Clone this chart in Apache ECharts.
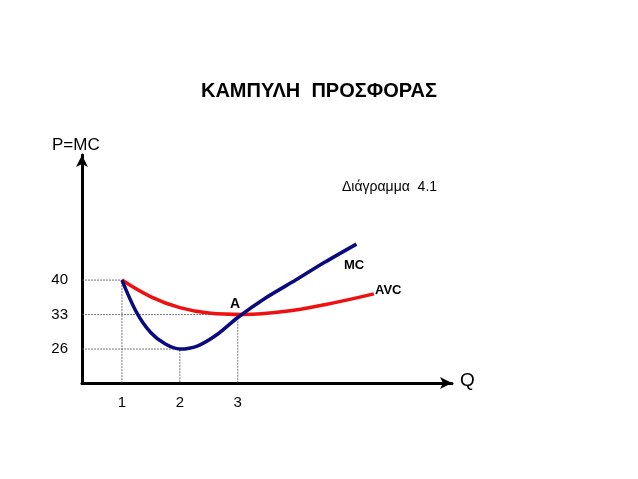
<!DOCTYPE html>
<html>
<head>
<meta charset="utf-8">
<script src="https://cdn.jsdelivr.net/npm/echarts@6/dist/echarts.min.js"></script>
</head>
<body style="margin:0">
<div id="main" style="width:638px;height:479px"></div>
<script>
var mc = [[1, 40], [1.25, 33.5], [1.5, 29.3], [1.75, 27], [2, 26], [2.3, 26.6], [2.65, 29], [3, 32.4], [3.5, 36.5], [4, 40], [4.5, 43.6], [5.05, 47.3]];
var avc = [[1, 40], [1.5, 36.6], [2, 34.4], [2.5, 33.3], [3.1, 33], [3.8, 33.6], [4.5, 35], [5.35, 37.2]];
var points = [[1, 40], [2, 26], [3, 33]];
var xTicks = [1, 2, 3];
var yTicks = [26, 33, 40];

var xMin = 0.31, yMin = 19.1;
var guides = points.map(function (p) {
    return {
        type: 'line', silent: true, symbol: 'none',
        lineStyle: {color: '#555', width: 0.8, type: [2, 1]},
        data: [[xMin, p[1]], [p[0], p[1]], [p[0], yMin]]
    };
});
var font = 'Liberation Sans, Arial, sans-serif';
var chart = echarts.init(document.getElementById('main'));
chart.setOption({
    animation: false,
    title: {text: 'ΚΑΜΠΥΛΗ  ΠΡΟΣΦΟΡΑΣ', left: 'center', top: 76,
        textStyle: {fontSize: 20, fontWeight: 'bold', color: '#000', fontFamily: font}},
    graphic: [
        {type: 'text', left: 52, top: 137, style: {text: 'P=MC', fontSize: 17, fill: '#000', fontFamily: font}},
        {type: 'text', left: 342, top: 180, style: {text: 'Διάγραμμα  4.1', fontSize: 14, fill: '#000', fontFamily: font}},
        {type: 'text', left: 460, top: 371, style: {text: 'Q', fontSize: 19, fill: '#000', fontFamily: font}},
        {type: 'text', left: 344, top: 259, style: {text: 'MC', fontSize: 13, fontWeight: 'bold', fill: '#000', fontFamily: font}},
        {type: 'text', left: 375, top: 284, style: {text: 'AVC', fontSize: 13, fontWeight: 'bold', fill: '#000', fontFamily: font}},
        {type: 'text', left: 230, top: 297, style: {text: 'A', fontSize: 14, fontWeight: 'bold', fill: '#000', fontFamily: font}}
    ],
    grid: {left: 82, right: 186, top: 155, bottom: 96},
    xAxis: {
        type: 'value', min: xMin, max: 6.7,
        axisLine: {symbol: ['none', 'arrow'], symbolSize: [9, 12], lineStyle: {color: '#000', width: 3}},
        splitLine: {show: false}, axisTick: {show: false},
        axisLabel: {customValues: xTicks, color: '#000', fontSize: 15, fontFamily: font, margin: 12}
    },
    yAxis: {
        type: 'value', min: yMin, max: 65.4,
        axisLine: {show: true, symbol: ['none', 'arrow'], symbolSize: [9, 12], lineStyle: {color: '#000', width: 3}},
        splitLine: {show: false}, axisTick: {show: false},
        axisLabel: {customValues: yTicks, color: '#000', fontSize: 15, fontFamily: font, margin: 14}
    },
    series: guides.concat([
        {type: 'line', name: 'AVC', data: avc, smooth: 0.4, symbol: 'none', lineStyle: {color: '#ee1111', width: 3.5}},
        {type: 'line', name: 'MC', data: mc, smooth: 0.3, symbol: 'none', lineStyle: {color: '#0a0a80', width: 3.5}}
    ])
});
</script>
</body>
</html>
